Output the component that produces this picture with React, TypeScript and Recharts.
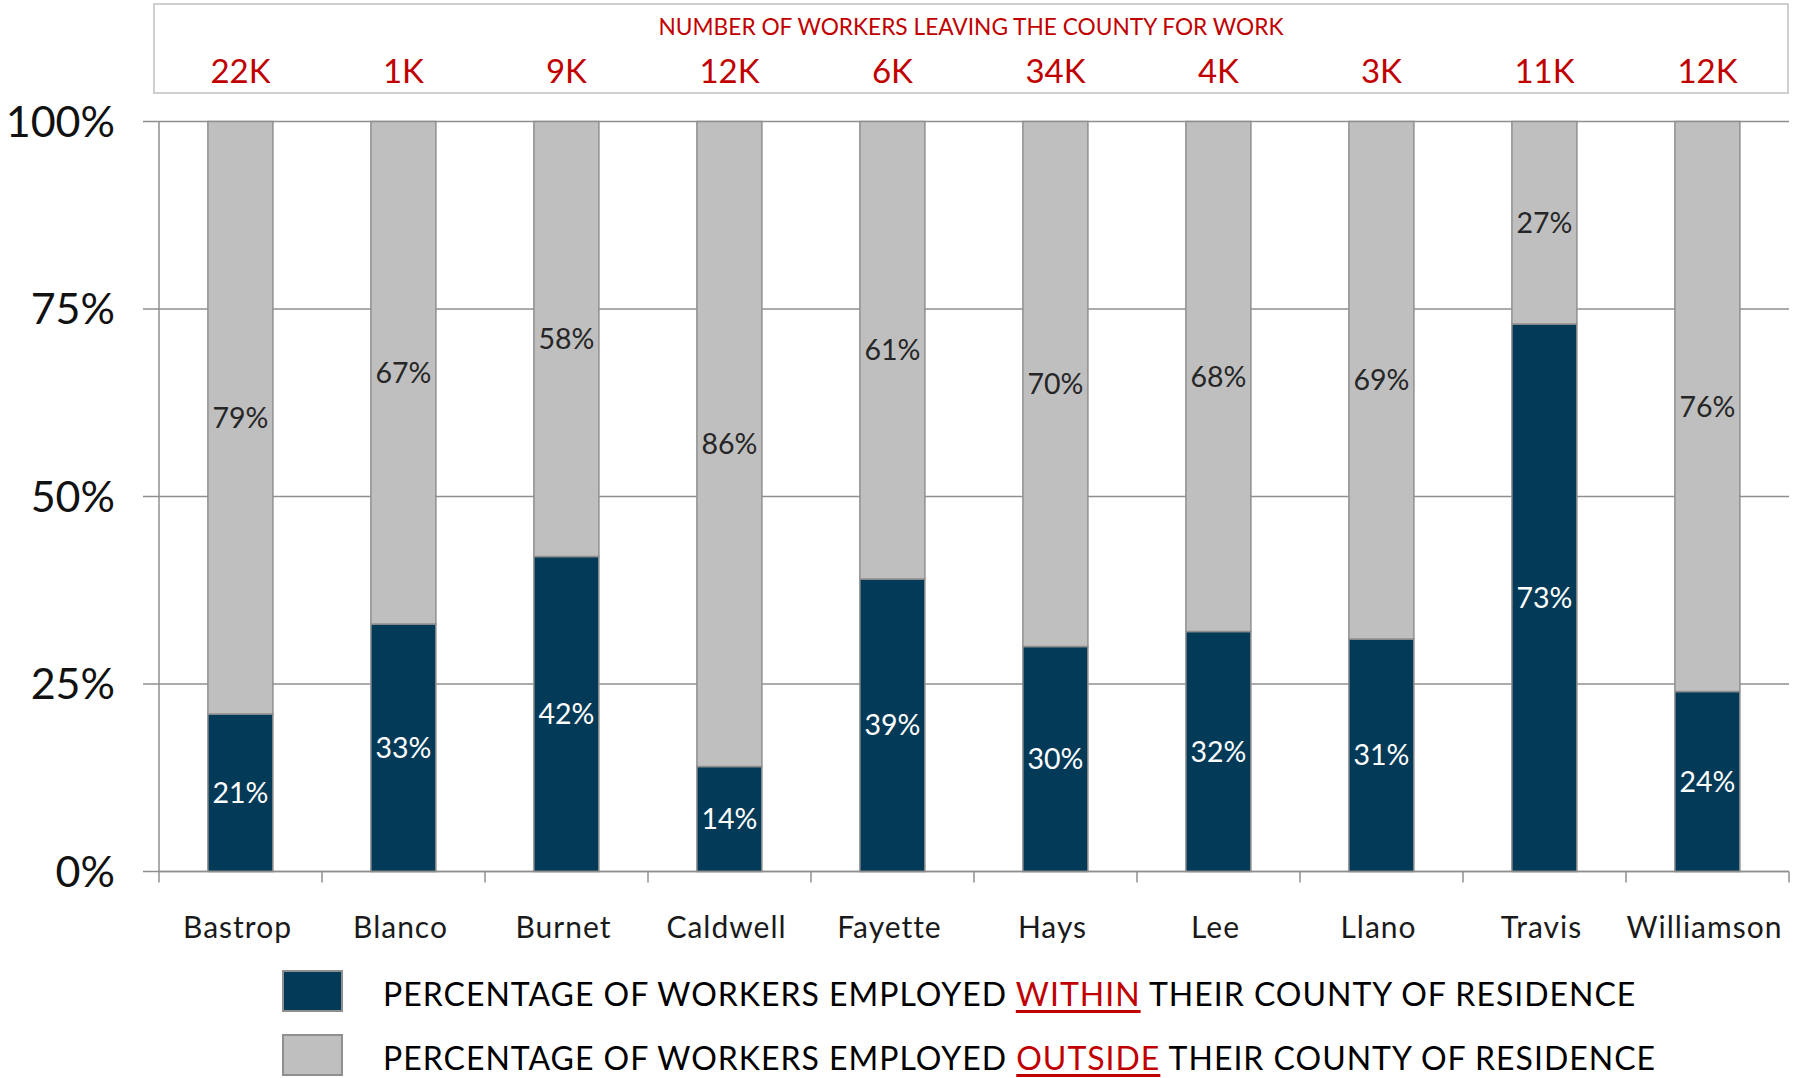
import React from 'react';
import { BarChart, Bar, XAxis, YAxis, CartesianGrid, LabelList } from 'recharts';

const counties = ['Bastrop', 'Blanco', 'Burnet', 'Caldwell', 'Fayette', 'Hays', 'Lee', 'Llano', 'Travis', 'Williamson'];
const withinPct = [21, 33, 42, 14, 39, 30, 32, 31, 73, 24];
const outsidePct = [79, 67, 58, 86, 61, 70, 68, 69, 27, 76];
const leavingLabels = ['22K', '1K', '9K', '12K', '6K', '34K', '4K', '3K', '11K', '12K'];
const yTicks = [0, 25, 50, 75, 100];

const data = counties.map((c, i) => ({ county: c, within: withinPct[i], outside: outsidePct[i] }));

const W = 1796;
const H = 1078;
const FONT = 'Lato, Carlito, Calibri, sans-serif';
const DARK = '#033a57';
const GRAY = '#bfbfbf';
const LINE = '#8f8f8f';
const RED = '#c00000';
const PLOT_LEFT = 159;
const PLOT_RIGHT = 1789;
const AXIS_Y = 871.5;
const BAND = (PLOT_RIGHT - PLOT_LEFT) / counties.length;

const BottomTick = (props: any) => {
  const { x, payload, index } = props;
  const last = index === counties.length - 1;
  return (
    <g>
      <line x1={x - BAND / 2} y1={AXIS_Y} x2={x - BAND / 2} y2={AXIS_Y + 11} stroke={LINE} strokeWidth={1.5} />
      {last && <line x1={x + BAND / 2} y1={AXIS_Y} x2={x + BAND / 2} y2={AXIS_Y + 11} stroke={LINE} strokeWidth={1.5} />}
      <text
        x={x - 3}
        y={AXIS_Y + 54}
        textAnchor="middle"
        dominantBaseline="central"
        fontFamily={FONT}
        fontSize={30}
        letterSpacing={1}
        fill="#1a1a1a"
      >
        {payload.value}
      </text>
    </g>
  );
};

const TopTick = (props: any) => {
  const { x, payload } = props;
  const i = counties.indexOf(payload.value);
  return (
    <text x={x} y={70} textAnchor="middle" dominantBaseline="central" fontFamily={FONT} fontSize={33} fill={RED}>
      {leavingLabels[i]}
    </text>
  );
};

const legendItems = [
  { color: DARK, word: 'WITHIN' },
  { color: GRAY, word: 'OUTSIDE' },
];

export default function App() {
  return (
    <div style={{ position: 'absolute', left: 0, top: 0, width: W, height: H, background: '#fff', fontFamily: FONT }}>
      <div
        style={{
          position: 'absolute',
          left: 153,
          top: 3,
          width: 1789 - 153,
          height: 94 - 3,
          border: '2px solid #cfcfcf',
          boxSizing: 'border-box',
        }}
      />
      <div
        style={{
          position: 'absolute',
          left: 153,
          width: 1789 - 153,
          top: 27,
          transform: 'translateY(-50%)',
          textAlign: 'center',
          color: RED,
          fontSize: 22.7,
          lineHeight: 1,
        }}
      >
        NUMBER OF WORKERS LEAVING THE COUNTY FOR WORK
      </div>
      <div style={{ position: 'absolute', left: 0, top: 0 }}>
        <BarChart
          width={W}
          height={H}
          data={data}
          barCategoryGap="30%"
          margin={{ top: 61.5, right: W - PLOT_RIGHT, bottom: 146.5, left: 0 }}
        >
          <CartesianGrid vertical={false} stroke={LINE} strokeWidth={1.5} />
          <XAxis
            xAxisId="top"
            orientation="top"
            dataKey="county"
            height={60}
            axisLine={false}
            tickLine={false}
            tick={<TopTick />}
            interval={0}
          />
          <XAxis
            dataKey="county"
            height={60}
            axisLine={{ stroke: LINE, strokeWidth: 1.5 }}
            tickLine={false}
            tick={<BottomTick />}
            interval={0}
          />
          <YAxis
            domain={[0, 100]}
            ticks={yTicks}
            tickFormatter={(v: number) => `${v}%`}
            width={PLOT_LEFT}
            tickSize={16}
            tickMargin={28}
            axisLine={{ stroke: LINE, strokeWidth: 1.5 }}
            tickLine={{ stroke: LINE, strokeWidth: 1.5 }}
            tick={{ fill: '#111', fontSize: 43, fontFamily: FONT }}
            interval={0}
          />
          <Bar dataKey="within" stackId="a" fill={DARK} stroke={LINE} strokeWidth={1.5} isAnimationActive={false}>
            <LabelList
              dataKey="within"
              position="center"
              formatter={(v: any) => `${v}%`}
              style={{ fill: '#ffffff', fontSize: 28.5, fontFamily: FONT }}
            />
          </Bar>
          <Bar dataKey="outside" stackId="a" fill={GRAY} stroke={LINE} strokeWidth={1.5} isAnimationActive={false}>
            <LabelList
              dataKey="outside"
              position="center"
              formatter={(v: any) => `${v}%`}
              style={{ fill: '#262626', fontSize: 28.5, fontFamily: FONT }}
            />
          </Bar>
        </BarChart>
      </div>
      {legendItems.map((it, i) => (
        <div key={it.word} style={{ position: 'absolute', left: 282, top: 970 + i * 64, height: 42, display: 'flex', alignItems: 'center' }}>
          <div
            style={{
              width: 61,
              height: 42,
              background: it.color,
              border: `2px solid ${LINE}`,
              boxSizing: 'border-box',
            }}
          />
          <div
            style={{
              marginLeft: 40,
              position: 'relative',
              top: 3,
              fontSize: 32,
              letterSpacing: 1,
              color: '#000',
              whiteSpace: 'nowrap',
              lineHeight: 1,
            }}
          >
            PERCENTAGE OF WORKERS EMPLOYED{' '}
            <span style={{ color: RED, textDecoration: 'underline', textDecorationColor: RED, textDecorationThickness: 3, textUnderlineOffset: 4 }}>
              {it.word}
            </span>{' '}
            THEIR COUNTY OF RESIDENCE
          </div>
        </div>
      ))}
    </div>
  );
}
